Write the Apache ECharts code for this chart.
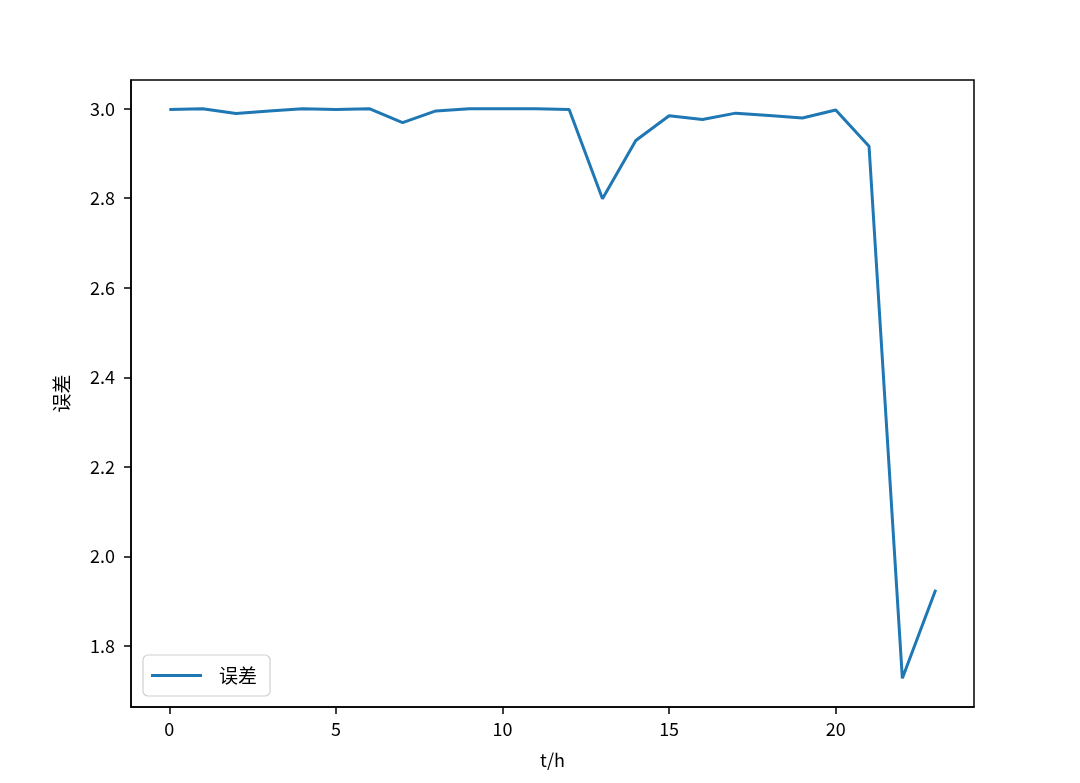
<!DOCTYPE html>
<html>
<head>
<meta charset="utf-8">
<script src="https://cdn.jsdelivr.net/npm/echarts@6/dist/echarts.min.js"></script>
<style>
html,body{margin:0;padding:0;background:#fff;}
#chart{width:1080px;height:783px;}
</style>
</head>
<body>
<div id="chart"></div>
<script>
const hours = [0,1,2,3,4,5,6,7,8,9,10,11,12,13,14,15,16,17,18,19,20,21,22,23];
const errorValues = [2.998,3.000,2.989,2.995,3.000,2.998,3.000,2.969,2.995,3.000,3.000,3.000,2.998,2.799,2.929,2.984,2.976,2.990,2.985,2.979,2.997,2.916,1.728,1.926];
const xTicks = [0,5,10,15,20];
const yTicks = [1.8,2.0,2.2,2.4,2.6,2.8,3.0];
const seriesName = '误差';
const xName = 't/h';
const yName = '误差';

const FONT = '"Noto Sans CJK SC", "DejaVu Sans", sans-serif';
const chart = echarts.init(document.getElementById('chart'), null, {renderer:'canvas'});
chart.setOption({
  backgroundColor:'#ffffff',
  animation:false,
  grid:{left:131,right:106,top:80,bottom:76,show:true,borderColor:'#000',borderWidth:1.5,backgroundColor:'transparent'},
  legend:{
    left:143, top:655,
    orient:'vertical',
    data:[{name:seriesName, icon:'rect'}],
    itemWidth:51, itemHeight:3,
    padding:[11,13,11,8],
    borderColor:'#d0d0d0', borderWidth:1.2, borderRadius:5,
    backgroundColor:'rgba(255,255,255,0.8)',
    textStyle:{fontFamily:FONT,fontSize:19,color:'#000',padding:[0,0,0,12]}
  },
  xAxis:{
    type:'value', min:-1.15, max:24.15,
    name:xName, nameLocation:'middle', nameGap:44,
    nameTextStyle:{fontFamily:FONT,fontSize:18,color:'#000'},
    axisLine:{show:true,onZero:false,lineStyle:{color:'#000',width:1.5}},
    axisTick:{show:true,length:7,lineStyle:{color:'#000',width:1.5},customValues:xTicks},
    axisLabel:{fontFamily:FONT,fontSize:18,color:'#000',margin:13,customValues:xTicks},
    splitLine:{show:false}
  },
  yAxis:{
    type:'value', min:1.664, max:3.064,
    name:yName, nameLocation:'middle', nameGap:60,
    nameTextStyle:{fontFamily:FONT,fontSize:19,color:'#000'},
    axisLine:{show:true,onZero:false,lineStyle:{color:'#000',width:1.5}},
    axisTick:{show:true,length:7,lineStyle:{color:'#000',width:1.5},customValues:yTicks},
    axisLabel:{fontFamily:FONT,fontSize:18,color:'#000',margin:16,customValues:yTicks,formatter:v=>Number(v).toFixed(1)},
    splitLine:{show:false}
  },
  series:[{
    name:seriesName, type:'line',
    data:hours.map((h,i)=>[h,errorValues[i]]),
    symbol:'none', showSymbol:false,
    lineStyle:{color:'#1f77b4',width:3},
    itemStyle:{color:'#1f77b4'}
  }]
});
</script>
</body>
</html>
